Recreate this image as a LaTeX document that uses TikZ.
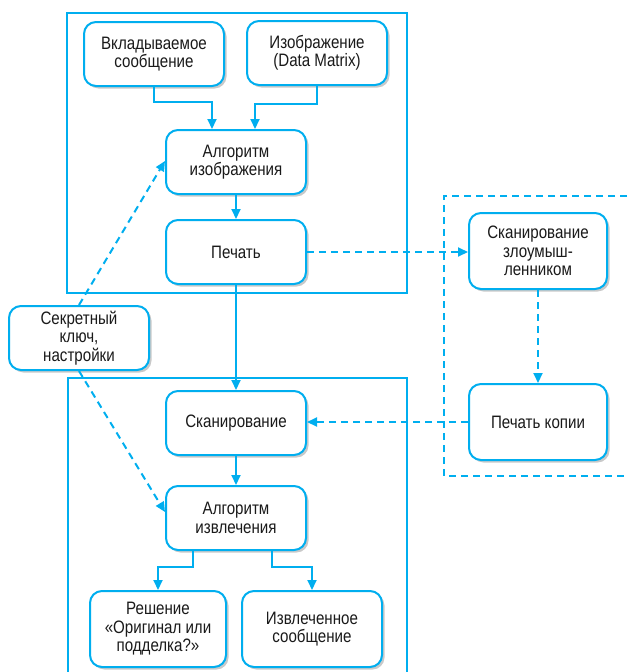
\documentclass[tikz,border=0pt]{standalone}
\usepackage{fontspec}
\setmainfont{Liberation Sans}[FakeStretch=0.84]
\usepackage{xcolor}
\usepackage{tikz}
\usetikzlibrary{arrows.meta, positioning, shadows}
\definecolor{cyanline}{HTML}{00AEEF}
\definecolor{textgray}{HTML}{1A1A1A}

\tikzset{
  box/.style={draw=cyanline, line width=2pt, fill=white, rounded corners=12pt,
    align=center, inner sep=0pt, minimum width=140pt, minimum height=64pt,
    text=textgray, font=\fontsize{18}{18.5}\selectfont,
    drop shadow={shadow xshift=2.5pt, shadow yshift=-2.5pt, opacity=0.3, fill=black!70}},
  frame/.style={draw=cyanline, line width=2pt},
  arr/.style={draw=cyanline, line width=2pt, -{Triangle[length=10pt, width=9pt]}},
  darr/.style={arr, dash pattern=on 7pt off 5pt},
}

\begin{document}
\begin{tikzpicture}[x=1pt, y=-1pt]
  \useasboundingbox (0,0) rectangle (627,672);
  % frames
  \draw[frame] (67,13) rectangle (407,293);
  \draw[frame] (68,672) -- (68,378) -- (407,378) -- (407,672);
  \draw[frame, dash pattern=on 7pt off 5pt] (627,196) -- (444,196) -- (444,476) -- (627,476);

  \node[box] (Msg) at (154,54) {Вкладываемое\\сообщение};
  \node[box] (Img) at (317,53) {Изображение\\(Data Matrix)};
  \node[box] (Alg) at (236,162) {Алгоритм\\изображения};
  \node[box] (Print) at (236,252) {Печать};
  \node[box] (Key) at (79,338) {Секретный\\ключ,\\настройки};
  \node[box] (Scan) at (236,423) {Сканирование};
  \node[box] (Ext) at (236,518) {Алгоритм\\извлечения};
  \node[box, minimum width=136pt, minimum height=76pt] (Dec) at (158,629) {Решение\\«Оригинал или\\подделка?»};
  \node[box, minimum height=76pt] (Out) at (312,629) {Извлеченное\\сообщение};
  \node[box, minimum width=138pt, minimum height=76pt] (AScan) at (538,251) {Сканирование\\злоумыш-\\ленником};
  \node[box, minimum width=138pt, minimum height=76pt] (ACopy) at (538,422) {Печать копии};

  \draw[arr] (Msg.south) -- ++(0,15) -| ([xshift=-24pt]Alg.north);
  \draw[arr] (Img.south) -- ++(0,18) -| ([xshift=19pt]Alg.north);
  \draw[arr] (Alg) -- (Print);
  \draw[arr] (Print) -- (Scan);
  \draw[arr] (Scan) -- (Ext);
  \draw[arr] ([xshift=-43pt]Ext.south) -- ++(0,16) -| (Dec.north);
  \draw[arr] ([xshift=36pt]Ext.south) -- ++(0,16) -| (Out.north);

  \draw[darr] (Print.east) -- (Print.east -| AScan.west);
  \draw[darr] (AScan) -- (ACopy);
  \draw[darr] (ACopy.west) -- (ACopy.west -| Scan.east);
  \draw[darr] (Key.north) -- ([yshift=1pt]Alg.west);
  \draw[darr] (Key.south) -- ([yshift=6pt]Ext.west);
\end{tikzpicture}
\end{document}
